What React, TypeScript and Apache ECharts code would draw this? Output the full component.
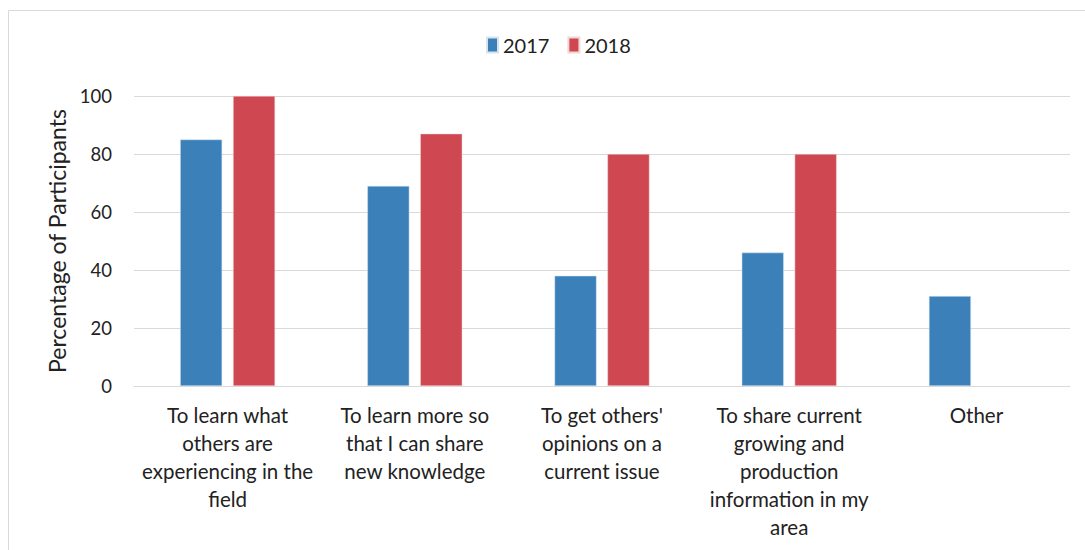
import React, { useEffect, useRef } from "react";
import * as echarts from "echarts";

const categories = [
  "To learn what others are experiencing in the field",
  "To learn more so that I can share new knowledge",
  "To get others' opinions on a current issue",
  "To share current growing and production information in my area",
  "Other",
];
const categoryLabels = [
  "To learn what\nothers are\nexperiencing in the\nfield",
  "To learn more so\nthat I can share\nnew knowledge",
  "To get others'\nopinions on a\ncurrent issue",
  "To share current\ngrowing and\nproduction\ninformation in my\narea",
  "Other",
];
const values2017 = [85, 69, 38, 46, 31];
const values2018: (number | null)[] = [100, 87, 80, 80, null];
const yTicks = [0, 20, 40, 60, 80, 100];

const FONT = "Lato, 'Open Sans', sans-serif";

export default function App() {
  const ref = useRef<HTMLDivElement>(null);
  useEffect(() => {
    if (!ref.current) return;
    const chart = echarts.init(ref.current, undefined, { renderer: "svg" });
    chart.setOption({
      animation: false,
      backgroundColor: "#ffffff",
      textStyle: { fontFamily: FONT },
      graphic: [
        {
          type: "rect",
          shape: { x: 8.5, y: 10.5, width: 1100, height: 600 },
          style: { fill: "none", stroke: "#d9d9d9", lineWidth: 1 },
          silent: true,
        },
      ],
      legend: {
        top: 30,
        left: 481,
        itemWidth: 11,
        itemHeight: 15,
        itemGap: 18,
        icon: "rect",
        textStyle: { fontSize: 20, color: "#222", fontFamily: FONT },
        data: ["2017", "2018"],
      },
      grid: { left: 134, right: 15, top: 96, bottom: 164 },
      xAxis: {
        type: "category",
        data: categories,
        axisLine: { lineStyle: { color: "#d9d9d9", width: 1 } },
        axisTick: { show: false },
        axisLabel: {
          interval: 0,
          margin: 15,
          fontSize: 20.5,
          lineHeight: 28,
          color: "#222",
          fontFamily: FONT,
          formatter: (_v: string, i: number) => categoryLabels[i],
        },
      },
      yAxis: {
        type: "value",
        min: yTicks[0],
        max: yTicks[yTicks.length - 1],
        interval: 20,
        name: "Percentage of Participants",
        nameLocation: "middle",
        nameGap: 64,
        nameTextStyle: { fontSize: 23, color: "#222", fontFamily: FONT },
        axisLine: { show: false },
        axisTick: { show: false },
        axisLabel: { fontSize: 18.5, color: "#222", margin: 22, fontFamily: FONT },
        splitLine: { lineStyle: { color: "#d9d9d9", width: 1 } },
      },
      series: [
        {
          name: "2017",
          type: "bar",
          data: values2017,
          barWidth: 42,
          barGap: "26%",
          itemStyle: { color: "#3b80b9", borderColor: "#d6e4f0", borderWidth: 0.5 },
        },
        {
          name: "2018",
          type: "bar",
          data: values2018,
          barWidth: 42,
          barGap: "26%",
          itemStyle: { color: "#cf4750", borderColor: "#f0d6d8", borderWidth: 0.5 },
        },
      ],
    });
    return () => chart.dispose();
  }, []);
  return (
    <div
      ref={ref}
      style={{ position: "fixed", left: 0, top: 0, width: 1085, height: 550 }}
    />
  );
}
